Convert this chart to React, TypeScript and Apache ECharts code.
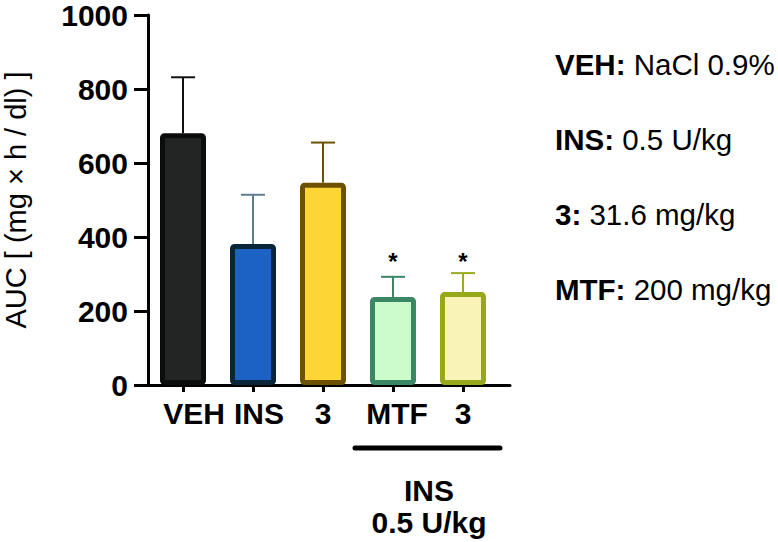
import React, { useEffect, useRef } from "react";
import * as echarts from "echarts";

const categories = ["VEH", "INS", "3", "MTF", "3"];
const means = [675, 378, 542, 236, 249];
const sem = [150, 132, 108, 54, 51];
const significant = [false, false, false, true, true];
const starLevel = 330;
const fills = ["#222524", "#1c62c4", "#fdd535", "#ccfccc", "#f9f3b8"];
const borders = ["#0a0d0b", "#0b2538", "#6b5100", "#3a8765", "#97a818"];
const errColors = ["#111111", "#5f7d92", "#6b5100", "#3a8765", "#9aab22"];
const labelPadLeft = [22, 12, 0, 8, 0];
const yTicks = [0, 200, 400, 600, 800, 1000];
const legendLines = [
  ["VEH:", "NaCl 0.9%"],
  ["INS:", "0.5 U/kg"],
  ["3:", "31.6 mg/kg"],
  ["MTF:", "200 mg/kg"],
];
const groupLabel = ["INS", "0.5 U/kg"];

const FONT = "'Liberation Sans', Arial, Helvetica, sans-serif";

export default function App() {
  const ref = useRef<HTMLDivElement>(null);
  useEffect(() => {
    if (!ref.current) return;
    const chart = echarts.init(ref.current, undefined, { renderer: "svg" });
    const gridTop = 12;
    const gridH = 373;
    const option: any = {
      animation: false,
      backgroundColor: "#ffffff",
      grid: [
        { left: 136, top: gridTop, width: 374, height: gridH },
        { left: 148, top: gridTop, width: 350, height: gridH },
      ],
      xAxis: [
        {
          gridIndex: 0,
          type: "value",
          min: 0,
          max: 1,
          axisLine: { show: true, lineStyle: { color: "#000", width: 3 } },
          axisTick: { show: false },
          axisLabel: { show: false },
          splitLine: { show: false },
        },
        {
          gridIndex: 1,
          type: "category",
          data: categories.map((c, i) => ({
            value: c,
            textStyle: { padding: [0, 0, 0, labelPadLeft[i]] },
          })),
          boundaryGap: true,
          axisLine: { show: true, lineStyle: { color: "#000", width: 3 } },
          axisTick: { show: true, alignWithLabel: true, length: 7, lineStyle: { color: "#000", width: 3 } },
          axisLabel: {
            color: "#000",
            fontFamily: FONT,
            fontWeight: "bold",
            fontSize: 30,
            margin: 13,
            interval: 0,
          },
        },
      ],
      yAxis: [
        {
          gridIndex: 0,
          type: "value",
          min: yTicks[0],
          max: yTicks[yTicks.length - 1],
          interval: 200,
          name: "AUC [ (mg × h / dl) ]",
          nameLocation: "middle",
          nameGap: 118,
          nameTextStyle: { color: "#000", fontFamily: FONT, fontSize: 29 },
          axisLine: { show: true, lineStyle: { color: "#000", width: 3 } },
          axisTick: { show: true, length: 14, lineStyle: { color: "#000", width: 3 } },
          axisLabel: {
            color: "#000",
            fontFamily: FONT,
            fontWeight: "bold",
            fontSize: 30,
            margin: 20,
            formatter: (v: number) => String(v),
          },
          splitLine: { show: false },
        },
        {
          gridIndex: 1,
          type: "value",
          min: yTicks[0],
          max: yTicks[yTicks.length - 1],
          show: false,
          splitLine: { show: false },
        },
      ],
      series: [
        {
          type: "custom",
          xAxisIndex: 1,
          yAxisIndex: 1,
          z: 1,
          data: means.map((m, i) => [i, m, m + sem[i], significant[i] ? starLevel : -1]),
          encode: { x: 0, y: [1, 2] },
          renderItem: (params: any, api: any) => {
            const i = api.value(0);
            const base = api.coord([i, api.value(1)]);
            const top = api.coord([i, api.value(2)]);
            const color = errColors[params.dataIndex];
            const children: any[] = [
              {
                type: "line",
                shape: { x1: base[0], y1: base[1], x2: top[0], y2: top[1] },
                style: { stroke: color, lineWidth: 2 },
              },
              {
                type: "line",
                shape: { x1: top[0] - 12, y1: top[1], x2: top[0] + 12, y2: top[1] },
                style: { stroke: color, lineWidth: 2 },
              },
            ];
            const sl = api.value(3);
            if (sl > 0) {
              const sp = api.coord([i, sl]);
              children.push({
                type: "text",
                x: sp[0],
                y: sp[1],
                style: {
                  text: "*",
                  fill: "#000",
                  font: `bold 24px ${FONT}`,
                  align: "center",
                  verticalAlign: "middle",
                },
              });
            }
            return { type: "group", children };
          },
        },
        {
          type: "bar",
          xAxisIndex: 1,
          yAxisIndex: 1,
          z: 2,
          barWidth: 46,
          data: means.map((v, i) => ({
            value: v,
            itemStyle: {
              color: fills[i],
              borderColor: borders[i],
              borderWidth: 5,
              borderRadius: 2,
            },
          })),
        },
      ],
      graphic: [
        {
          type: "line",
          shape: { x1: 355, y1: 448, x2: 500, y2: 448 },
          style: { stroke: "#000", lineWidth: 5, lineCap: "round" },
        },
        ...groupLabel.map((t, k) => ({
          type: "text",
          x: 429,
          y: 490 + k * 32,
          style: {
            text: t,
            fill: "#000",
            font: `bold 30px ${FONT}`,
            align: "center",
            verticalAlign: "middle",
          },
        })),
        ...legendLines.map((l, k) => ({
          type: "text",
          x: 555,
          y: 64 + k * 75,
          style: {
            text: `{b|${l[0]}\u00a0}{r|${l[1]}}`,
            verticalAlign: "middle",
            align: "left",
            rich: {
              b: { fontFamily: FONT, fontWeight: "bold", fontSize: 29.5, fill: "#000", color: "#000" },
              r: { fontFamily: FONT, fontSize: 29.5, fill: "#000", color: "#000" },
            },
          },
        })),
      ],
    };
    chart.setOption(option);
    return () => chart.dispose();
  }, []);
  return (
    <div
      ref={ref}
      style={{ position: "fixed", left: 0, top: 0, width: 778, height: 542 }}
    />
  );
}
